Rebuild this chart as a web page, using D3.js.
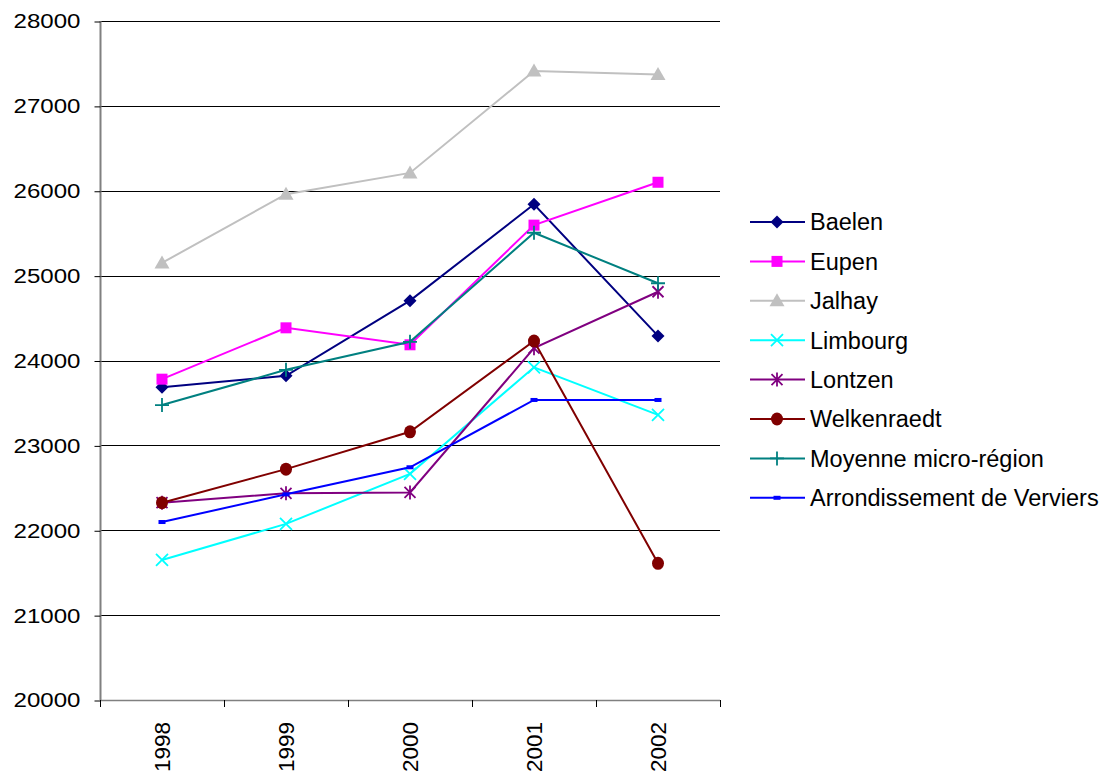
<!DOCTYPE html>
<html>
<head>
<meta charset="utf-8">
<script src="https://cdn.jsdelivr.net/npm/d3@7"></script>
<style>
  html, body { margin: 0; padding: 0; background: #fff; }
  svg { display: block; font-family: "Liberation Sans", Arial, sans-serif; }
</style>
</head>
<body>
<svg id="chart" width="1110" height="776"></svg>
<script>
// Years on the category axis
const years = ["1998", "1999", "2000", "2001", "2002"];

// Values per commune / aggregate
const baelen       = [23685, 23820, 24705, 25840, 24290];
const eupen        = [23780, 24385, 24185, 25595, 26100];
const jalhay       = [25150, 25960, 26210, 27410, 27370];
const limbourg     = [21650, 22075, 22665, 23920, 23360];
const lontzen      = [22325, 22435, 22445, 24145, 24810];
const welkenraedt  = [22325, 22720, 23160, 24230, 21610];
const moyenne      = [23475, 23890, 24220, 25505, 24910];
const arrondissement = [22097, 22423, 22742, 23535, 23535];

const yTicks = [20000, 21000, 22000, 23000, 24000, 25000, 26000, 27000, 28000];

const seriesNames = ["Baelen", "Eupen", "Jalhay", "Limbourg", "Lontzen",
  "Welkenraedt", "Moyenne micro-région", "Arrondissement de Verviers"];
const seriesValues = [baelen, eupen, jalhay, limbourg, lontzen,
  welkenraedt, moyenne, arrondissement];
const seriesColors = ["#000080", "#FF00FF", "#C0C0C0", "#00FFFF", "#800080",
  "#800000", "#008080", "#0000FF"];
const seriesMarkers = ["diamond", "square", "triangle", "cross", "star",
  "circle", "plus", "dash"];

const svg = d3.select("#chart");
const plot = { left: 100, right: 720, top: 21, bottom: 700 };

const x = d3.scaleBand().domain(years).range([plot.left, plot.right]);
const y = d3.scaleLinear().domain([20000, 28000]).range([plot.bottom, plot.top]);
const cx = d => x(d) + x.bandwidth() / 2;

// Horizontal gridlines
svg.append("g")
  .selectAll("line")
  .data(yTicks.slice(1))
  .join("line")
  .attr("x1", plot.left).attr("x2", plot.right)
  .attr("y1", d => Math.round(y(d)) + 0.5).attr("y2", d => Math.round(y(d)) + 0.5)
  .attr("stroke", "#000").attr("stroke-width", 1);

// Y axis
const yAxis = svg.append("g")
  .attr("transform", `translate(${plot.left + 0.5},0)`)
  .call(d3.axisLeft(y).tickValues(yTicks).tickSize(6).tickPadding(14).tickFormat(d3.format("d")));
yAxis.select(".domain").attr("stroke", "#808080").attr("stroke-width", 2).attr("d", `M0,${plot.top}V${plot.bottom}`);
yAxis.selectAll(".tick line").attr("stroke", "#000").attr("transform", "translate(0,0.5)");
yAxis.selectAll(".tick text")
  .attr("font-size", 20.5).attr("fill", "#000")
  .attr("font-family", "Liberation Sans, Arial, sans-serif")
  .attr("textLength", 67).attr("lengthAdjust", "spacingAndGlyphs")
  .attr("dy", "0.34em");

// X axis with ticks at band boundaries
const xg = svg.append("g");
xg.append("line")
  .attr("x1", plot.left).attr("x2", plot.right)
  .attr("y1", plot.bottom + 0.5).attr("y2", plot.bottom + 0.5)
  .attr("stroke", "#808080").attr("stroke-width", 1.5);
const bounds = years.map(d => x(d)).concat([plot.right]);
xg.selectAll(".xt").data(bounds).join("line")
  .attr("x1", d => Math.round(d) + 0.5).attr("x2", d => Math.round(d) + 0.5)
  .attr("y1", plot.bottom).attr("y2", plot.bottom + 7)
  .attr("stroke", "#000");
xg.selectAll("text").data(years).join("text")
  .attr("transform", d => `translate(${cx(d) + 8},722) rotate(-90)`)
  .attr("text-anchor", "end")
  .attr("font-size", 22.5)
  .attr("fill", "#000")
  .text(d => d);

// Marker shapes
function drawMarker(g, type, color) {
  switch (type) {
    case "diamond":
      g.append("path").attr("d", "M0,-6.5L6.5,0L0,6.5L-6.5,0Z").attr("fill", color);
      break;
    case "square":
      g.append("rect").attr("x", -5.5).attr("y", -5.5).attr("width", 11).attr("height", 11).attr("fill", color);
      break;
    case "triangle":
      g.append("path").attr("d", "M0,-7.5L7.5,5.5L-7.5,5.5Z").attr("fill", color);
      break;
    case "cross":
      g.append("path").attr("d", "M-6,-6L6,6M-6,6L6,-6").attr("stroke", color).attr("stroke-width", 1.8).attr("fill", "none");
      break;
    case "star":
      g.append("path").attr("d", "M-5.5,-5.5L5.5,5.5M-5.5,5.5L5.5,-5.5M0,-7V7").attr("stroke", color).attr("stroke-width", 1.8).attr("fill", "none");
      break;
    case "circle":
      g.append("ellipse").attr("rx", 6).attr("ry", 6.5).attr("fill", color);
      break;
    case "plus":
      g.append("path").attr("d", "M-7,0H7M0,-7V7").attr("stroke", color).attr("stroke-width", 1.8).attr("fill", "none");
      break;
    case "dash":
      g.append("rect").attr("x", -3.5).attr("y", -2).attr("width", 7).attr("height", 4).attr("fill", color);
      break;
  }
}

const line = d3.line().x((d, i) => cx(years[i])).y(d => y(d));

// Series lines and markers
seriesValues.forEach((vals, s) => {
  const g = svg.append("g");
  g.append("path")
    .datum(vals)
    .attr("d", line)
    .attr("fill", "none")
    .attr("stroke", seriesColors[s])
    .attr("stroke-width", 2);
  vals.forEach((v, i) => {
    const m = g.append("g").attr("transform", `translate(${cx(years[i])},${y(v)})`);
    drawMarker(m, seriesMarkers[s], seriesColors[s]);
  });
});

// Legend
const legend = svg.append("g");
seriesNames.forEach((name, s) => {
  const ly = 222 + s * 39.4;
  const row = legend.append("g").attr("transform", `translate(0,${ly})`);
  row.append("line").attr("x1", 750).attr("x2", 805).attr("y1", 0).attr("y2", 0)
    .attr("stroke", seriesColors[s]).attr("stroke-width", 2);
  const m = row.append("g").attr("transform", "translate(777,0)");
  drawMarker(m, seriesMarkers[s], seriesColors[s]);
  row.append("text").attr("x", 810).attr("y", 8.4)
    .attr("font-size", 23.5).attr("fill", "#000")
    .text(name);
});
</script>
</body>
</html>
